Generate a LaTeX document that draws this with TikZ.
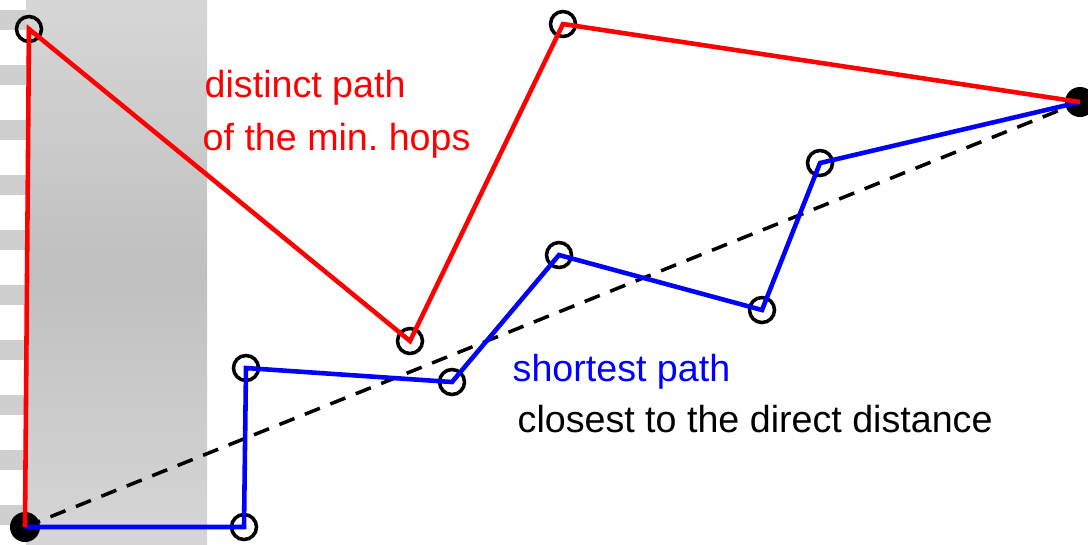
\documentclass[tikz,border=0pt]{standalone}
\usepackage{fontspec}
\setmainfont{Liberation Sans}
\colorlet{hoppath}{red}
\colorlet{shortpath}{blue}
\colorlet{bandedge}{black!16}
\colorlet{bandmid}{black!25}
\tikzset{
  hop/.style={circle,draw=black,line width=1pt,inner sep=0pt,minimum size=.25cm},
  endpt/.style={circle,fill=black,inner sep=0pt,minimum size=.3cm},
  rpath/.style={draw=hoppath,line width=1.3pt},
  bpath/.style={draw=shortpath,line width=1.3pt},
  direct/.style={draw=black,line width=1pt,dash pattern=on 4.6pt off 3.2pt},
  lbl/.style={anchor=base west,inner sep=0pt,font=\fontsize{10.7pt}{12pt}\selectfont}
}

\begin{document}
\begin{tikzpicture}[x=0.01cm,y=-0.01cm]
  \useasboundingbox (0,0) rectangle (1088,544);
  \shade[top color=bandedge,bottom color=bandedge,middle color=bandmid] (26,0) rectangle (207,544);
  \foreach \sy in {10,65,...,505} {\fill[black!19] (0,\sy) rectangle (26,\sy+20);}
  \node[endpt] (src) at (25,527) {};
  \node[endpt] (dst) at (1080,102) {};
  \node[hop] (r1) at (29,29) {};
  \node[hop] (r2) at (410,341) {};
  \node[hop] (r3) at (563,24) {};
  \node[hop] (b1) at (244,527) {};
  \node[hop] (b2) at (246,368) {};
  \node[hop] (b3) at (452,382) {};
  \node[hop] (b4) at (559,255) {};
  \node[hop] (b5) at (762,310) {};
  \node[hop] (b6) at (820,163) {};
  \draw[direct] (src.center) -- (dst.center);
  \draw[bpath] (src.center) -- (b1.center) -- (b2.center) -- (b3.center) -- (b4.center) -- (b5.center) -- (b6.center) -- (dst.center);
  \draw[rpath] (src.center) -- (r1.center) -- (r2.center) -- (r3.center) -- (dst.center);
  \node[lbl,text=hoppath] (dlbl1) at (204,97) {distinct path};
  \node[lbl,text=hoppath] (dlbl2) at (202,150) {of the min.\ hops};
  \node[lbl,text=shortpath] (slbl) at (512,381) {shortest path};
  \node[lbl] (clbl) at (517,432) {closest to the direct distance};
\end{tikzpicture}
\end{document}
